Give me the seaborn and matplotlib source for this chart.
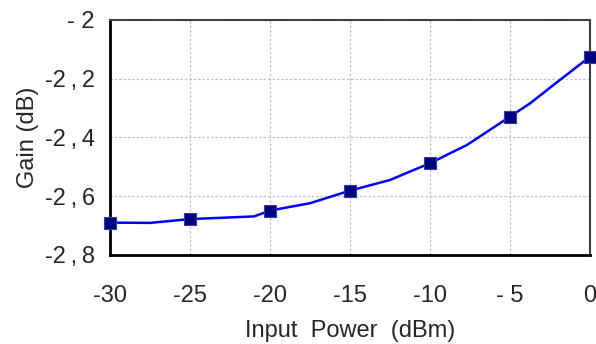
import matplotlib
matplotlib.use("Agg")
import matplotlib.pyplot as plt
import seaborn as sns
import pandas as pd

# measured points (markers)
power_pts = [-30, -25, -20, -15, -10, -5, 0]
gain_pts = [-2.690, -2.678, -2.649, -2.581, -2.488, -2.329, -2.125]

# simulated curve (denser)
power_curve = [-30, -27.5, -25, -21, -20, -17.5, -15, -12.5, -11.25, -10,
               -8.75, -7.7, -6.25, -5, -3.75, -1.875, 0]
gain_curve = [-2.690, -2.691, -2.678, -2.669, -2.649, -2.624, -2.581, -2.545,
              -2.516, -2.488, -2.454, -2.426, -2.374, -2.329, -2.284, -2.204, -2.125]

x_ticks = [-30, -25, -20, -15, -10, -5, 0]
x_labels = ["-30", "-25", "-20", "-15", "-10", "- 5", "0"]
y_ticks = [-2.8, -2.6, -2.4, -2.2, -2.0]
y_labels = ["-2\u2009,\u20098", "-2\u2009,\u20096", "-2\u2009,\u20094", "-2\u2009,\u20092", "- 2"]

sns.set_style("white")
plt.rcParams['font.family'] = ['Liberation Sans', 'DejaVu Sans']

df_curve = pd.DataFrame({'power': power_curve, 'gain': gain_curve})
df_pts = pd.DataFrame({'power': power_pts, 'gain': gain_pts})

fig, ax = plt.subplots(figsize=(5.96, 3.44), dpi=100)
fig.subplots_adjust(left=0.1846, right=0.99, top=0.942, bottom=0.259)

sns.lineplot(data=df_curve, x='power', y='gain', color='#0000ff', linewidth=1.8, ax=ax)
sns.scatterplot(data=df_pts, x='power', y='gain', marker='s', s=80,
                color='#000080', edgecolor='#3040a0', linewidth=0.8, ax=ax,
                zorder=3, clip_on=False)

ax.set_xlim(-30, 0)
ax.set_ylim(-2.8, -2.0)
ax.set_xticks(x_ticks)
ax.set_xticklabels(x_labels)
ax.set_yticks(y_ticks)
ax.set_yticklabels(y_labels)
ax.grid(True, color='#c0c0c0', linestyle=(0, (2, 1.5)), linewidth=0.9)
ax.tick_params(direction='inout', length=12, width=1.5, labelsize=17, color='black')
ax.tick_params(axis='y', pad=5)
ax.tick_params(axis='x', pad=16)

for side in ['left', 'bottom']:
    ax.spines[side].set_color('black')
    ax.spines[side].set_linewidth(2)
for side in ['top', 'right']:
    ax.spines[side].set_color('#404040')
    ax.spines[side].set_linewidth(1.5)

ax.set_xlabel('Input  Power  (dBm)', fontsize=17, labelpad=9)
ax.set_ylabel('Gain (dB)', fontsize=17, labelpad=4)

fig.savefig('out.png', dpi=100)
